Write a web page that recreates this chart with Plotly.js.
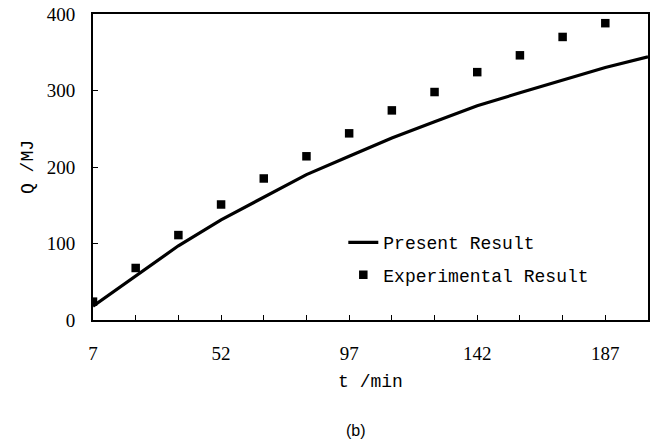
<!DOCTYPE html>
<html>
<head>
<meta charset="utf-8">
<script src="https://cdn.plot.ly/plotly-3.0.1.min.js"></script>
<style>html,body{margin:0;padding:0;background:#fff;}#chart{width:657px;height:444px;}</style>
</head>
<body>
<div id="chart"></div>
<script>
// Data
const expTime = [7, 22, 37, 52, 67, 82, 97, 112, 127, 142, 157, 172, 187];
const expQ = [24, 68, 111, 151, 185, 214, 244, 274, 298, 324, 346, 370, 388];
const calcTime = [7, 22, 37, 52, 67, 82, 97, 112, 127, 142, 157, 172, 187, 202];
const calcQ = [18, 58, 97, 131, 160, 190, 214, 238, 259, 280, 297, 314, 330, 344];
const xTickVals = [7, 22, 37, 52, 67, 82, 97, 112, 127, 142, 157, 172, 187];
const xTickText = ['7', '', '', '52', '', '', '97', '', '', '142', '', '', '187'];
const yTickVals = [0, 100, 200, 300, 400];

const monoFont = {family: 'Liberation Mono, DejaVu Sans Mono, monospace', size: 18, color: '#000'};
const serifFont = {family: 'Liberation Serif, Times New Roman, serif', size: 19, color: '#000'};

const traces = [
  {
    x: calcTime, y: calcQ, mode: 'lines', name: 'Present Result',
    line: {color: '#000', width: 3.2}, legendgroup: 'a'
  },
  {
    x: expTime, y: expQ, mode: 'markers', name: 'Experimental Result',
    marker: {symbol: 'square', size: 8.5, color: '#000'}, legendgroup: 'b'
  }
];

const layout = {
  width: 657, height: 444,
  margin: {l: 93, r: 9, t: 14, b: 124},
  paper_bgcolor: '#fff', plot_bgcolor: '#fff',
  showlegend: true,
  legend: {
    x: 0.451, y: 0.313, xanchor: 'left', yanchor: 'top',
    font: monoFont, bgcolor: 'rgba(0,0,0,0)', borderwidth: 0,
    traceorder: 'grouped', tracegroupgap: 6, itemwidth: 30
  },
  xaxis: {
    range: [7, 202], tickmode: 'array', tickvals: xTickVals, ticktext: xTickText,
    ticks: 'inside', ticklen: 5, tickcolor: '#000', tickwidth: 1,
    showline: true, linecolor: '#000', linewidth: 2, mirror: true,
    showgrid: false, zeroline: false, tickfont: serifFont, ticklabelstandoff: 15,
    title: {text: 't /min', font: monoFont, standoff: 12}
  },
  yaxis: {
    range: [0, 400], tickmode: 'array', tickvals: yTickVals,
    ticks: 'inside', ticklen: 5, tickcolor: '#000', tickwidth: 1,
    showline: true, linecolor: '#000', linewidth: 2, mirror: true,
    showgrid: false, zeroline: false, tickfont: serifFont, ticklabelstandoff: 12,
    title: {text: 'Q /MJ', font: monoFont, standoff: 8}
  },
  annotations: [
    {text: '(b)', xref: 'paper', yref: 'paper', x: 0.473, y: -0.36, xanchor: 'center', yanchor: 'middle',
     showarrow: false, font: {family: 'Liberation Sans, Arial, sans-serif', size: 16, color: '#000'}}
  ]
};

Plotly.newPlot('chart', traces, layout, {displayModeBar: false, staticPlot: true});
</script>
</body>
</html>
